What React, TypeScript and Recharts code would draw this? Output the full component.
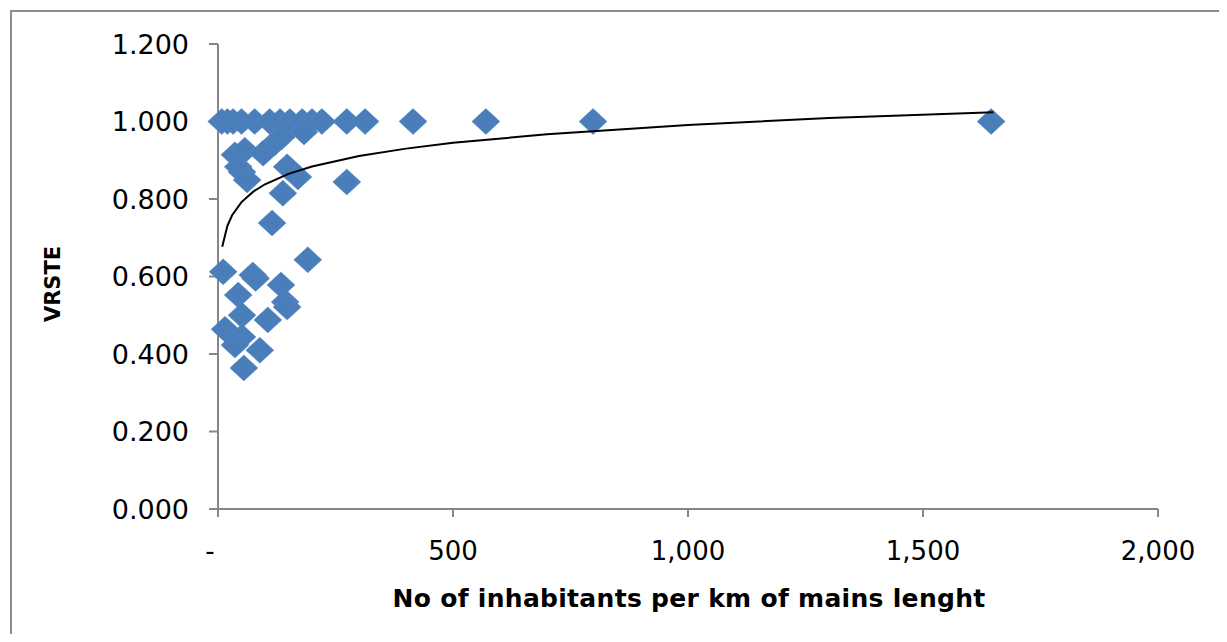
import { ScatterChart, Scatter, XAxis, YAxis, Label } from "recharts";

// density (inhabitants per km of mains) vs VRSTE
const pointX = [
  8, 20, 32, 50, 78, 110, 132, 153, 179, 200, 221, 274, 313, 415, 570, 798, 1645,
  121, 135, 183,
  36, 57, 96, 43, 51, 62, 147, 170, 138, 274, 115,
  191, 11, 74, 80, 134, 43, 143, 147, 51, 106, 15, 51, 36, 89, 55,
];
const pointY = [
  1.0, 1.0, 1.0, 1.0, 1.0, 1.0, 1.0, 1.0, 1.0, 1.0, 1.0, 1.0, 1.0, 1.0, 1.0, 1.0, 1.0,
  0.945, 0.96, 0.973,
  0.914, 0.926, 0.918, 0.883, 0.87, 0.849, 0.883, 0.857, 0.815, 0.844, 0.738,
  0.643, 0.612, 0.604, 0.595, 0.578, 0.552, 0.534, 0.521, 0.5, 0.488, 0.464, 0.444, 0.423, 0.41, 0.364,
];

// trend line as drawn
const trendX = [9, 20, 30, 50, 75, 100, 150, 200, 300, 400, 500, 700, 1000, 1300, 1650];
const trendY = [0.677, 0.731, 0.758, 0.792, 0.819, 0.838, 0.865, 0.884, 0.911, 0.93, 0.945, 0.967, 0.991, 1.009, 1.024];

const xTicks = [0, 500, 1000, 1500, 2000];
const yTicks = [0, 0.2, 0.4, 0.6, 0.8, 1.0, 1.2];

const points = pointX.map((x, i) => ({ x, y: pointY[i] }));
const trend = trendX.map((x, i) => ({ x, y: trendY[i] }));

const FONT = "'DejaVu Sans', sans-serif";
const AXIS = "#868686";

const Diamond = (p: any) => {
  const { cx, cy } = p;
  if (cx == null || cy == null) return <g />;
  return (
    <polygon
      points={`${cx - 14},${cy} ${cx},${cy - 13} ${cx + 14},${cy} ${cx},${cy + 13}`}
      fill="#4A7EBB"
      stroke="#5a8bc6"
      strokeWidth={0.5}
    />
  );
};

const fmtX = (v: number) => (v === 0 ? "-" : v.toLocaleString("en-US"));

const XTick = (p: any) => {
  const { x, y, payload } = p;
  const shift = payload.value === 0 ? -8 : 0;
  return (
    <text x={x + shift} y={y + 41} textAnchor="middle" fontFamily={FONT} fontSize={26} fill="#000">
      {fmtX(payload.value)}
    </text>
  );
};

export default function App() {
  return (
    <div style={{ position: "relative", width: 1227, height: 642, margin: -8, overflow: "hidden", background: "#fff" }}>
      <div
        style={{
          position: "absolute", left: 10, top: 10, width: 1240, height: 660,
          border: "2px solid #8c8c8c", boxSizing: "border-box",
        }}
      />
      <div style={{ position: "absolute", left: 0, top: 0 }}>
        <ScatterChart width={1227} height={642} margin={{ top: 44, right: 69, bottom: 33, left: 48 }}>
          <XAxis
            dataKey="x"
            type="number"
            domain={[0, 2000]}
            ticks={xTicks}
            height={100}
            axisLine={{ stroke: AXIS, strokeWidth: 2 }}
            tickLine={{ stroke: AXIS, strokeWidth: 2 }}
            tickSize={8}
            tick={<XTick />}
            interval={0}
          >
            <Label
              content={() => (
                <text x={689} y={607} textAnchor="middle" fontFamily={FONT} fontSize={25} fontWeight="bold" letterSpacing={0.3} fill="#000">
                  No of inhabitants per km of mains lenght
                </text>
              )}
            />
          </XAxis>
          <YAxis
            dataKey="y"
            type="number"
            domain={[0, 1.2]}
            ticks={yTicks}
            width={170}
            axisLine={{ stroke: AXIS, strokeWidth: 2 }}
            tickLine={{ stroke: AXIS, strokeWidth: 2 }}
            tickSize={9}
            tickMargin={20}
            tick={{ fontFamily: FONT, fontSize: 27, fill: "#000" }}
            tickFormatter={(v: number) => v.toFixed(3)}
            interval={0}
          >
            <Label
              content={() => (
                <text
                  x={60}
                  y={284}
                  transform="rotate(-90 60 284)"
                  textAnchor="middle"
                  fontFamily={FONT}
                  fontSize={21}
                  fontWeight="bold"
                  fill="#000"
                >
                  VRSTE
                </text>
              )}
            />
          </YAxis>
          <Scatter data={points} shape={<Diamond />} isAnimationActive={false} />
          <Scatter
            data={trend}
            line={{ stroke: "#000", strokeWidth: 2 }}
            lineType="joint"
            shape={() => <g />}
            isAnimationActive={false}
          />
        </ScatterChart>
      </div>
    </div>
  );
}
